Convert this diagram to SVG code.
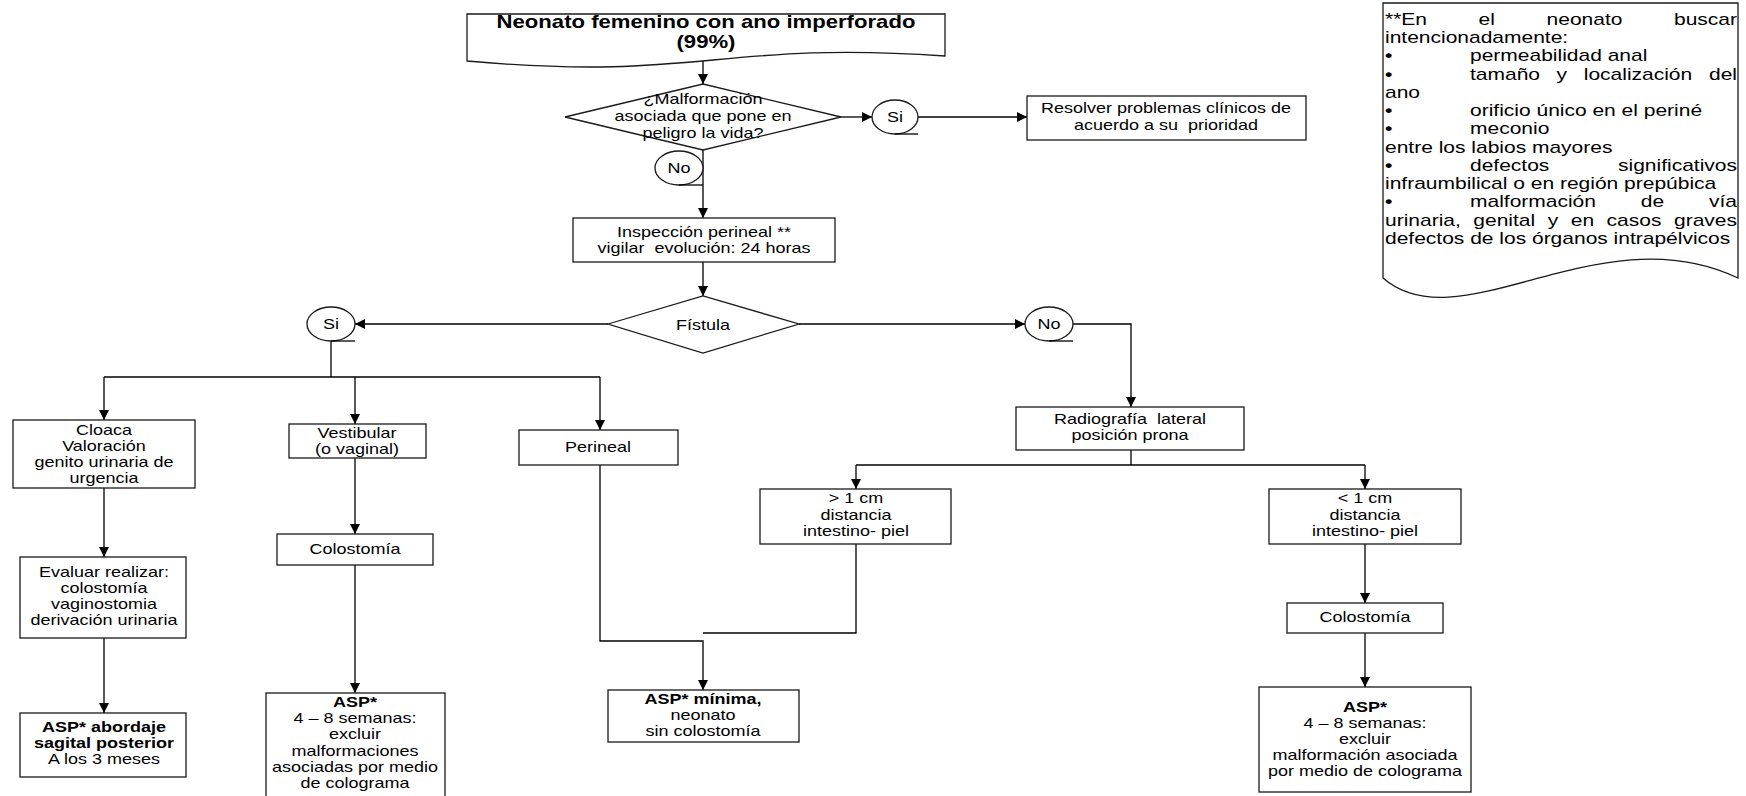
<svg xmlns="http://www.w3.org/2000/svg" width="1746" height="796" viewBox="0 0 1746 796">
<style>
.bg{fill:#fff}
.s{fill:#fff;stroke:#1a1a1a;stroke-width:1.3}
.c{fill:none;stroke:#000;stroke-width:1.3}
.ca{fill:none;stroke:#000;stroke-width:1.3;marker-end:url(#ah)}
text{font-family:"Liberation Sans",Arial,Helvetica,sans-serif;fill:#000;white-space:pre}
.t{font-size:14.4px;text-anchor:middle}
.b{font-weight:bold}
.title{font-size:17.7px;font-weight:bold;text-anchor:middle}
.n{font-size:16.8px;text-anchor:start}
.ne{font-size:16.8px;text-anchor:end}
.bul{font-weight:bold}
</style>
<defs>
<marker id="ah" markerWidth="10" markerHeight="10" refX="10" refY="5" orient="auto" markerUnits="userSpaceOnUse">
<path d="M0,0 L10,5 L0,10 Z" fill="#000"/>
</marker>
</defs>
<rect class="bg" x="0" y="0" width="1746" height="796"/>

<g id="connectors">
<line class="ca" x1="703" y1="59" x2="703" y2="84"/>
<line class="ca" x1="841" y1="117" x2="872" y2="117"/>
<line class="ca" x1="918" y1="117" x2="1027" y2="117"/>
<line class="ca" x1="703" y1="150" x2="703" y2="218"/>
<line class="ca" x1="703" y1="262" x2="703" y2="296"/>
<line class="ca" x1="608" y1="324" x2="355" y2="324"/>
<line class="ca" x1="799" y1="324" x2="1025" y2="324"/>
<polyline class="ca" points="1073,324 1131,324 1131,407"/>
<line class="c" x1="331" y1="341" x2="331" y2="377"/>
<line class="c" x1="104" y1="377" x2="600" y2="377"/>
<line class="ca" x1="104" y1="377" x2="104" y2="420"/>
<line class="ca" x1="355" y1="377" x2="355" y2="424"/>
<line class="ca" x1="600" y1="377" x2="600" y2="430"/>
<line class="ca" x1="104" y1="488" x2="104" y2="557"/>
<line class="ca" x1="104" y1="638" x2="104" y2="713"/>
<line class="ca" x1="355" y1="458" x2="355" y2="534"/>
<line class="ca" x1="355" y1="565" x2="355" y2="693"/>
<polyline class="ca" points="600,465 600,641 703,641 703,690"/>
<polyline class="c" points="856,544 856,633 703,633"/>
<line class="c" x1="1131" y1="450" x2="1131" y2="465"/>
<line class="c" x1="856" y1="465" x2="1365" y2="465"/>
<line class="ca" x1="856" y1="465" x2="856" y2="489"/>
<line class="ca" x1="1365" y1="465" x2="1365" y2="489"/>
<line class="ca" x1="1365" y1="544" x2="1365" y2="603"/>
<line class="ca" x1="1365" y1="633" x2="1365" y2="687"/>
</g>

<g id="n-title">
<path class="s" d="M467,14 H945 V56 C720,40 700,82 467,61 Z"/>
<g transform="translate(706 0) scale(1.25 1)"><text class="title" x="0" y="28">Neonato femenino con ano imperforado</text><text class="title" x="0" y="48">(99%)</text></g>
</g>

<g id="n-malformacion">
<polygon class="s" points="565,117 703,84 841,117 703,150"/>
<g transform="translate(703 0) scale(1.25 1)"><text class="t" x="0" y="104">¿Malformación</text><text class="t" x="0" y="121">asociada que pone en</text><text class="t" x="0" y="138">peligro la vida?</text></g>
</g>

<g id="n-si1">
<ellipse class="s" cx="895" cy="117" rx="23" ry="17"/>
<line class="c" x1="895" y1="134" x2="918" y2="134"/>
<g transform="translate(895 0) scale(1.25 1)"><text class="t" x="0" y="122">Si</text></g>
</g>

<g id="n-resolver">
<rect class="s" x="1027" y="96" width="279" height="44"/>
<g transform="translate(1166 0) scale(1.25 1)"><text class="t" x="0" y="113">Resolver problemas clínicos de</text><text class="t" x="0" y="130" xml:space="preserve">acuerdo a su  prioridad</text></g>
</g>

<g id="n-no1">
<ellipse class="s" cx="679" cy="168" rx="24" ry="17"/>
<line class="c" x1="679" y1="185" x2="703" y2="185"/>
<g transform="translate(679 0) scale(1.25 1)"><text class="t" x="0" y="173">No</text></g>
</g>

<g id="n-inspeccion">
<rect class="s" x="573" y="218" width="262" height="44"/>
<g transform="translate(704 0) scale(1.25 1)"><text class="t" x="0" y="237">Inspección perineal **</text><text class="t" x="0" y="253" xml:space="preserve">vigilar  evolución: 24 horas</text></g>
</g>

<g id="n-fistula">
<polygon class="s" points="608,324 703,296 799,324 703,353"/>
<g transform="translate(703 0) scale(1.25 1)"><text class="t" x="0" y="330">Fístula</text></g>
</g>

<g id="n-si2">
<ellipse class="s" cx="331" cy="324" rx="24" ry="17"/>
<line class="c" x1="331" y1="341" x2="355" y2="341"/>
<g transform="translate(331 0) scale(1.25 1)"><text class="t" x="0" y="329">Si</text></g>
</g>

<g id="n-no2">
<ellipse class="s" cx="1049" cy="324" rx="24" ry="17"/>
<line class="c" x1="1049" y1="341" x2="1073" y2="341"/>
<g transform="translate(1049 0) scale(1.25 1)"><text class="t" x="0" y="329">No</text></g>
</g>

<g id="n-cloaca">
<rect class="s" x="13" y="420" width="182" height="68"/>
<g transform="translate(104 0) scale(1.25 1)"><text class="t" x="0" y="435">Cloaca</text><text class="t" x="0" y="451">Valoración</text><text class="t" x="0" y="467">genito urinaria de</text><text class="t" x="0" y="483">urgencia</text></g>
</g>

<g id="n-vestibular">
<rect class="s" x="289" y="424" width="137" height="34"/>
<g transform="translate(357 0) scale(1.25 1)"><text class="t" x="0" y="438">Vestibular</text><text class="t" x="0" y="454">(o vaginal)</text></g>
</g>

<g id="n-perineal">
<rect class="s" x="519" y="430" width="159" height="35"/>
<g transform="translate(598 0) scale(1.25 1)"><text class="t" x="0" y="452">Perineal</text></g>
</g>

<g id="n-evaluar">
<rect class="s" x="20" y="557" width="166" height="81"/>
<g transform="translate(104 0) scale(1.25 1)"><text class="t" x="0" y="577">Evaluar realizar:</text><text class="t" x="0" y="593">colostomía</text><text class="t" x="0" y="609">vaginostomia</text><text class="t" x="0" y="625">derivación urinaria</text></g>
</g>

<g id="n-asp-abordaje">
<rect class="s" x="20" y="713" width="166" height="64"/>
<g transform="translate(104 0) scale(1.25 1)"><text class="t b" x="0" y="732">ASP* abordaje</text><text class="t b" x="0" y="748">sagital posterior</text><text class="t" x="0" y="764">A los 3 meses</text></g>
</g>

<g id="n-colostomia-l">
<rect class="s" x="277" y="534" width="156" height="31"/>
<g transform="translate(355 0) scale(1.25 1)"><text class="t" x="0" y="554">Colostomía</text></g>
</g>

<g id="n-asp-l">
<rect class="s" x="266" y="693" width="179" height="120"/>
<g transform="translate(355 0) scale(1.25 1)"><text class="t b" x="0" y="707">ASP*</text><text class="t" x="0" y="723">4 – 8 semanas:</text><text class="t" x="0" y="739">excluir</text><text class="t" x="0" y="756">malformaciones</text><text class="t" x="0" y="772">asociadas por medio</text><text class="t" x="0" y="788">de colograma</text></g>
</g>

<g id="n-asp-minima">
<rect class="s" x="608" y="690" width="191" height="52"/>
<g transform="translate(703 0) scale(1.25 1)"><text class="t b" x="0" y="704">ASP* mínima,</text><text class="t" x="0" y="720">neonato</text><text class="t" x="0" y="736">sin colostomía</text></g>
</g>

<g id="n-radiografia">
<rect class="s" x="1016" y="407" width="228" height="43"/>
<g transform="translate(1130 0) scale(1.25 1)"><text class="t" x="0" y="424" xml:space="preserve">Radiografía  lateral</text><text class="t" x="0" y="440">posición prona</text></g>
</g>

<g id="n-mayor1">
<rect class="s" x="760" y="489" width="191" height="55"/>
<g transform="translate(856 0) scale(1.25 1)"><text class="t" x="0" y="503">&gt; 1 cm</text><text class="t" x="0" y="520">distancia</text><text class="t" x="0" y="536">intestino- piel</text></g>
</g>

<g id="n-menor1">
<rect class="s" x="1269" y="489" width="192" height="55"/>
<g transform="translate(1365 0) scale(1.25 1)"><text class="t" x="0" y="503">&lt; 1 cm</text><text class="t" x="0" y="520">distancia</text><text class="t" x="0" y="536">intestino- piel</text></g>
</g>

<g id="n-colostomia-r">
<rect class="s" x="1287" y="603" width="156" height="30"/>
<g transform="translate(1365 0) scale(1.25 1)"><text class="t" x="0" y="622">Colostomía</text></g>
</g>

<g id="n-asp-r">
<rect class="s" x="1259" y="687" width="212" height="105"/>
<g transform="translate(1365 0) scale(1.25 1)"><text class="t b" x="0" y="712">ASP*</text><text class="t" x="0" y="728">4 – 8 semanas:</text><text class="t" x="0" y="744">excluir</text><text class="t" x="0" y="760">malformación asociada</text><text class="t" x="0" y="776">por medio de colograma</text></g>
</g>

<g id="n-nota">
<path class="s" d="M1383,3 H1738 V278 C1600,212 1460,345 1383,278 Z"/>
<g transform="translate(1385 0) scale(1.25 1)">
<text class="n" y="25"><tspan x="0">**En</tspan><tspan x="74.9">el</tspan><tspan x="129.3">neonato</tspan></text>
<text class="ne" x="281.6" y="25">buscar</text>
<text class="n" x="0" y="43">intencionadamente:</text>
<text class="n" y="61.5"><tspan x="0" class="bul">•</tspan><tspan x="68">permeabilidad anal</tspan></text>
<text class="n" y="79.75"><tspan x="0" class="bul">•</tspan><tspan x="68">tamaño</tspan><tspan x="137.3">y</tspan><tspan x="159">localización</tspan></text>
<text class="ne" x="281.6" y="79.75">del</text>
<text class="n" x="0" y="98">ano</text>
<text class="n" y="116.25"><tspan x="0" class="bul">•</tspan><tspan x="68">orificio único en el periné</tspan></text>
<text class="n" y="134.5"><tspan x="0" class="bul">•</tspan><tspan x="68">meconio</tspan></text>
<text class="n" x="0" y="152.75">entre los labios mayores</text>
<text class="n" y="171"><tspan x="0" class="bul">•</tspan><tspan x="68">defectos</tspan></text>
<text class="ne" x="281.6" y="171">significativos</text>
<text class="n" x="0" y="189.25">infraumbilical o en región prepúbica</text>
<text class="n" y="207.5"><tspan x="0" class="bul">•</tspan><tspan x="68">malformación</tspan><tspan x="204.7">de</tspan></text>
<text class="ne" x="281.6" y="207.5">vía</text>
<text class="n" y="225.75"><tspan x="0">urinaria,</tspan><tspan x="70.7">genital</tspan><tspan x="130.2">y</tspan><tspan x="148.6">en</tspan><tspan x="177.3">casos</tspan></text>
<text class="ne" x="281.6" y="225.75">graves</text>
<text class="n" x="0" y="244">defectos de los órganos intrapélvicos</text>
</g>
</g>
</svg>
